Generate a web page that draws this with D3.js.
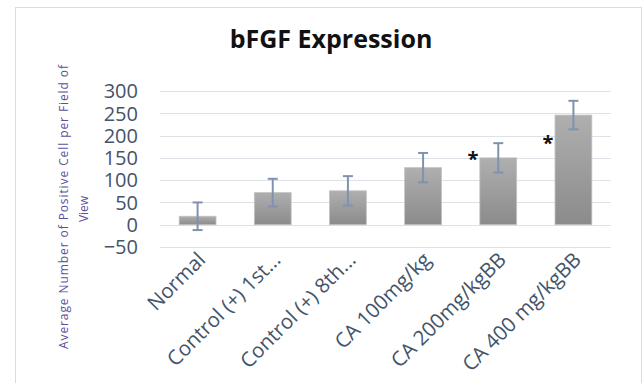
<!DOCTYPE html>
<html>
<head>
<meta charset="utf-8">
<script src="https://cdn.jsdelivr.net/npm/d3@7"></script>
<style>
  body { margin: 0; background: #fff; }
  svg { display: block; }
</style>
</head>
<body>
<svg id="chart"></svg>
<script>
const width = 644;
const height = 383;

// Data
const categories = ["Normal", "Control (+) 1st...", "Control (+) 8th...", "CA 100mg/kg", "CA 200mg/kgBB", "CA 400 mg/kgBB"];
const means = [19, 72, 76, 128, 150, 246];
const errors = [31, 31, 33, 33, 33, 32];
// asterisk marks (value where the star sits), null = none
const stars = [null, null, null, null, 150, 186];
const yTicks = [-50, 0, 50, 100, 150, 200, 250, 300];

const textColor = "#44546a";

const svg = d3.select("#chart")
  .attr("width", width)
  .attr("height", height);

// Gradient for the bars
const defs = svg.append("defs");
const grad = defs.append("linearGradient")
  .attr("id", "barGrad")
  .attr("x1", 0).attr("y1", 0).attr("x2", 0).attr("y2", 1);
grad.append("stop").attr("offset", "0%").attr("stop-color", "#afafaf");
grad.append("stop").attr("offset", "100%").attr("stop-color", "#8b8b8b");

// Chart frame
svg.append("rect")
  .attr("x", 15.5).attr("y", 7.5)
  .attr("width", 626).attr("height", 400)
  .attr("fill", "none")
  .attr("stroke", "#dcdcdc");

// Scales
const x = d3.scaleBand()
  .domain(categories)
  .range([160, 611])
  .paddingInner(0.51)
  .paddingOuter(0.255);

const y = d3.scaleLinear()
  .domain([-50, 300])
  .range([247, 91]);

// Gridlines
svg.append("g")
  .selectAll("line")
  .data(yTicks)
  .enter().append("line")
  .attr("x1", 160).attr("x2", 611)
  .attr("y1", d => Math.round(y(d)) + 0.5)
  .attr("y2", d => Math.round(y(d)) + 0.5)
  .attr("stroke", "#dde1e8")
  .attr("stroke-width", 1);

// Y axis labels
const yAxis = svg.append("g")
  .attr("transform", "translate(138,0)")
  .call(d3.axisLeft(y).tickValues(yTicks).tickSize(0).tickPadding(0));
yAxis.select(".domain").remove();
yAxis.selectAll("text")
  .attr("fill", textColor)
  .attr("font-family", "'Open Sans', sans-serif")
  .attr("font-size", 20)
  .attr("dy", "0.34em");

// Bars
svg.append("g")
  .selectAll("rect")
  .data(categories)
  .enter().append("rect")
  .attr("x", d => x(d))
  .attr("width", x.bandwidth())
  .attr("y", (d, i) => y(means[i]))
  .attr("height", (d, i) => y(0) - y(means[i]))
  .attr("fill", "url(#barGrad)")
  .attr("stroke", "#c2c2c2")
  .attr("stroke-width", 0.8);

// Error bars
const err = svg.append("g")
  .attr("stroke", "#7f93b0")
  .attr("stroke-width", 2);
categories.forEach((c, i) => {
  const cx = x(c) + x.bandwidth() / 2;
  const top = y(means[i] + errors[i]);
  const bot = y(means[i] - errors[i]);
  err.append("line").attr("x1", cx).attr("x2", cx).attr("y1", top).attr("y2", bot);
  err.append("line").attr("x1", cx - 5).attr("x2", cx + 5).attr("y1", top).attr("y2", top);
  err.append("line").attr("x1", cx - 5).attr("x2", cx + 5).attr("y1", bot).attr("y2", bot);
});

// Significance stars
svg.append("g")
  .selectAll("text")
  .data(categories.map((c, i) => ({ c, v: stars[i] })).filter(d => d.v !== null))
  .enter().append("text")
  .attr("x", d => x(d.c) - 7)
  .attr("y", d => y(d.v) + 8)
  .attr("text-anchor", "middle")
  .attr("font-family", "'Open Sans', sans-serif")
  .attr("font-weight", "bold")
  .attr("font-size", 20)
  .attr("fill", "#111")
  .text("*");

// X axis labels (rotated)
svg.append("g")
  .selectAll("text")
  .data(categories)
  .enter().append("text")
  .attr("transform", d => `translate(${x(d) + x.bandwidth() / 2 + 4},${256}) rotate(-45)`)
  .attr("text-anchor", "end")
  .attr("dy", "0.35em")
  .attr("fill", textColor)
  .attr("font-family", "'Open Sans', sans-serif")
  .attr("font-size", 20.5)
  .text(d => d);

// Title
svg.append("text")
  .attr("x", 331)
  .attr("y", 48)
  .attr("text-anchor", "middle")
  .attr("font-family", "'Open Sans', sans-serif")
  .attr("font-weight", "bold")
  .attr("font-size", 25)
  .attr("fill", "#111")
  .text("bFGF Expression");

// Y axis title (two lines)
const yTitle = svg.append("g")
  .attr("fill", "#5b4f9e")
  .attr("font-family", "'Open Sans', sans-serif")
  .attr("font-size", 12)
  .attr("text-anchor", "middle");
yTitle.append("text")
  .attr("transform", "translate(68,207) rotate(-90)")
  .attr("textLength", 284)
  .attr("lengthAdjust", "spacing")
  .text("Average Number of Positive Cell per Field of");
yTitle.append("text")
  .attr("transform", "translate(88,209) rotate(-90)")
  .text("View");
</script>
</body>
</html>
